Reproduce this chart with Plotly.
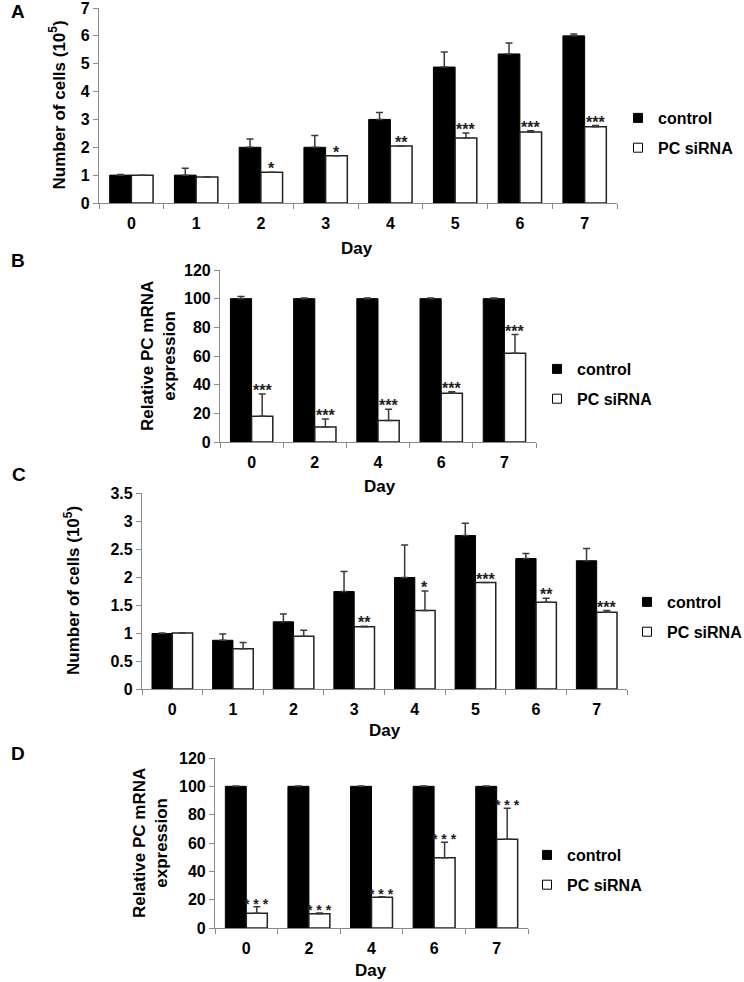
import plotly.graph_objects as go

# ---------------- data ----------------
days_A = ["0", "1", "2", "3", "4", "5", "6", "7"]
ctrl_A = [1.0, 1.0, 2.0, 2.0, 3.0, 4.88, 5.35, 6.0]
ctrl_A_err = [0.02, 0.25, 0.3, 0.42, 0.25, 0.54, 0.39, 0.07]
si_A = [1.0, 0.93, 1.1, 1.7, 2.05, 2.33, 2.55, 2.74]
si_A_err = [0.0, 0.0, 0.0, 0.0, 0.0, 0.18, 0.04, 0.04]
sig_A = ["", "", "*", "*", "**", "***", "***", "***"]

days_B = ["0", "2", "4", "6", "7"]
ctrl_B = [100, 100, 100, 100, 100]
ctrl_B_err = [1.5, 0.5, 0.5, 0.5, 0.5]
si_B = [18, 10.5, 15, 34, 62]
si_B_err = [15.5, 5.5, 7.8, 1, 13]
sig_B = ["***", "***", "***", "***", "***"]

days_C = ["0", "1", "2", "3", "4", "5", "6", "7"]
ctrl_C = [0.99, 0.87, 1.2, 1.74, 1.99, 2.74, 2.33, 2.29]
ctrl_C_err = [0.01, 0.11, 0.14, 0.36, 0.58, 0.22, 0.09, 0.22]
si_C = [1.0, 0.72, 0.94, 1.11, 1.40, 1.90, 1.55, 1.37]
si_C_err = [0.0, 0.11, 0.11, 0.01, 0.35, 0.0, 0.07, 0.03]
sig_C = ["", "", "", "**", "*", "***", "**", "***"]

days_D = ["0", "2", "4", "6", "7"]
ctrl_D = [100, 100, 100, 100, 100]
ctrl_D_err = [0.3, 0.3, 0.3, 0.3, 0.3]
si_D = [10.4, 10.1, 21.7, 49.6, 62.6]
si_D_err = [4.6, 0.4, 0.4, 11, 22]
sig_D = ["* * *", "* * *", "* * *", "* * *", "* * *"]

yticks_A = [0, 1, 2, 3, 4, 5, 6, 7]
yticks_B = [0, 20, 40, 60, 80, 100, 120]
yticks_C = [0, 0.5, 1, 1.5, 2, 2.5, 3, 3.5]
yticks_D = [0, 20, 40, 60, 80, 100, 120]

# ---------------- layout helpers ----------------
W, H = 744, 982
FONT = "Liberation Sans, Arial, sans-serif"
AX = "#8a8a8a"
ERR = "#3a3a3a"


def px_dom_x(a, b):
    return [a / W, b / W]


def px_dom_y(top, bottom):
    return [1 - bottom / H, 1 - top / H]


panels = [
    dict(key="A", days=days_A, ctrl=ctrl_A, ce=ctrl_A_err, si=si_A, se=si_A_err, sig=sig_A,
         yt=yticks_A, yr=[0, 7], xd=(99, 617), yd=(8, 203),
         ytitle="Number of cells (10<sup>5</sup>)", ytx=58, dayx=357, dayy=248,
         leg=(618, 101), lab=(9, 11), sigsize=16, sigbold=True),
    dict(key="B", days=days_B, ctrl=ctrl_B, ce=ctrl_B_err, si=si_B, se=si_B_err, sig=sig_B,
         yt=yticks_B, yr=[0, 120], xd=(220, 536), yd=(270, 442),
         ytitle="Relative PC mRNA<br>expression", ytx=158, dayx=380, dayy=487,
         leg=(537, 352), lab=(9, 261), sigsize=16, sigbold=True),
    dict(key="C", days=days_C, ctrl=ctrl_C, ce=ctrl_C_err, si=si_C, se=si_C_err, sig=sig_C,
         yt=yticks_C, yr=[0, 3.5], xd=(142, 627), yd=(493, 689),
         ytitle="Number of cells (10<sup>5</sup>)", ytx=72, dayx=385, dayy=730,
         leg=(627, 585), lab=(10, 474), sigsize=16, sigbold=True),
    dict(key="D", days=days_D, ctrl=ctrl_D, ce=ctrl_D_err, si=si_D, se=si_D_err, sig=sig_D,
         yt=yticks_D, yr=[0, 120], xd=(215, 528), yd=(758, 928),
         ytitle="Relative PC mRNA<br>expression", ytx=150, dayx=371, dayy=970,
         leg=(527, 838), lab=(9, 753), sigsize=14, sigbold=True),
]

fig = go.Figure()
annotations = []
layout = dict(
    width=W, height=H, margin=dict(l=0, r=0, t=0, b=0, autoexpand=False),
    paper_bgcolor="white", plot_bgcolor="white",
    font=dict(family=FONT, color="black", size=16),
    barmode="group", bargap=0.33, showlegend=True,
)

for i, p in enumerate(panels):
    n = i + 1
    xa = "x" if n == 1 else f"x{n}"
    ya = "y" if n == 1 else f"y{n}"
    lg = "legend" if n == 1 else f"legend{n}"

    fig.add_trace(go.Bar(
        x=p["days"], y=p["ctrl"], xaxis=xa, yaxis=ya, name="control",
        marker=dict(color="black", line=dict(color="black", width=1)),
        error_y=dict(type="data", array=p["ce"], arrayminus=[0] * len(p["ce"]),
                     symmetric=False, color=ERR, thickness=1.5, width=3.5),
        showlegend=False,
    ))
    fig.add_trace(go.Bar(
        x=p["days"], y=p["si"], xaxis=xa, yaxis=ya, name="PC siRNA",
        marker=dict(color="white", line=dict(color="#222222", width=1.5)),
        error_y=dict(type="data", array=p["se"], arrayminus=[0] * len(p["se"]),
                     symmetric=False, color=ERR, thickness=1.5, width=3.5),
        showlegend=False,
    ))
    # legend entries
    fig.add_trace(go.Scatter(
        x=[None], y=[None], xaxis=xa, yaxis=ya, mode="markers", name="control",
        marker=dict(symbol="square", size=9, color="black", line=dict(color="black", width=1)),
        legend=lg, legendgroup=f"c{n}", showlegend=True,
    ))
    fig.add_trace(go.Scatter(
        x=[None], y=[None], xaxis=xa, yaxis=ya, mode="markers", name="PC siRNA",
        marker=dict(symbol="square", size=9, color="white", line=dict(color="black", width=1)),
        legend=lg, legendgroup=f"s{n}", showlegend=True,
    ))

    axk = "xaxis" if n == 1 else f"xaxis{n}"
    ayk = "yaxis" if n == 1 else f"yaxis{n}"
    layout[axk] = dict(
        domain=px_dom_x(*p["xd"]), anchor=ya, type="category",
        categoryorder="array", categoryarray=p["days"],
        showline=True, linecolor=AX, linewidth=1.2,
        ticks="outside", tickson="boundaries", ticklen=5, tickcolor=AX, tickwidth=1.2,
        ticklabelstandoff=6, ticklabeloverflow="allow",
        tickfont=dict(family=FONT, size=16, color="black", weight="bold"),
        showgrid=False, zeroline=False, fixedrange=True, automargin=False,
    )
    layout[ayk] = dict(
        domain=px_dom_y(*p["yd"]), anchor=xa, range=p["yr"],
        tickmode="array", tickvals=p["yt"], ticktext=[f"{v:g}" for v in p["yt"]],
        showline=True, linecolor=AX, linewidth=1.2,
        ticks="outside", ticklen=5, tickcolor=AX, tickwidth=1.2,
        ticklabeloverflow="allow",
        tickfont=dict(family=FONT, size=16, color="black", weight="bold"),
        showgrid=False, zeroline=False, fixedrange=True, automargin=False,
    )

    layout[lg] = dict(
        x=p["leg"][0] / W, y=1 - p["leg"][1] / H, xanchor="left", yanchor="top",
        xref="paper", yref="paper",
        font=dict(family=FONT, size=16, color="black", weight="bold"),
        bgcolor="rgba(0,0,0,0)", traceorder="grouped", tracegroupgap=6,
        itemclick=False, itemdoubleclick=False,
    )

    # significance stars above the siRNA bars
    off = (1 - layout["bargap"]) / 4
    for j, s in enumerate(p["sig"]):
        if not s:
            continue
        annotations.append(dict(
            x=j + off, y=p["si"][j] + p["se"][j], xref=xa, yref=ya,
            text=s, showarrow=False, yanchor="bottom", yshift=-7,
            font=dict(family=FONT, size=p["sigsize"], color="#222222",
                      weight="bold" if p["sigbold"] else "normal"),
        ))

    # y-axis title
    ymid = (p["yd"][0] + p["yd"][1]) / 2
    annotations.append(dict(
        x=p["ytx"] / W, y=1 - ymid / H, xref="paper", yref="paper",
        text=p["ytitle"], textangle=-90, showarrow=False,
        xanchor="center", yanchor="middle",
        font=dict(family=FONT, size=17, color="black", weight="bold"),
    ))
    # x-axis title
    annotations.append(dict(
        x=p["dayx"] / W, y=1 - p["dayy"] / H, xref="paper", yref="paper",
        text="Day", showarrow=False, xanchor="center", yanchor="middle",
        font=dict(family=FONT, size=17, color="black", weight="bold"),
    ))
    # panel label
    annotations.append(dict(
        x=p["lab"][0] / W, y=1 - p["lab"][1] / H, xref="paper", yref="paper",
        text=p["key"], showarrow=False, xanchor="left", yanchor="middle",
        font=dict(family=FONT, size=19, color="black", weight="bold"),
    ))

layout["annotations"] = annotations
fig.update_layout(**layout)
fig.write_html(
    "out.html",
    config={"displayModeBar": False},
    post_script="document.body.style.margin='0';document.body.style.overflow='hidden';",
)
